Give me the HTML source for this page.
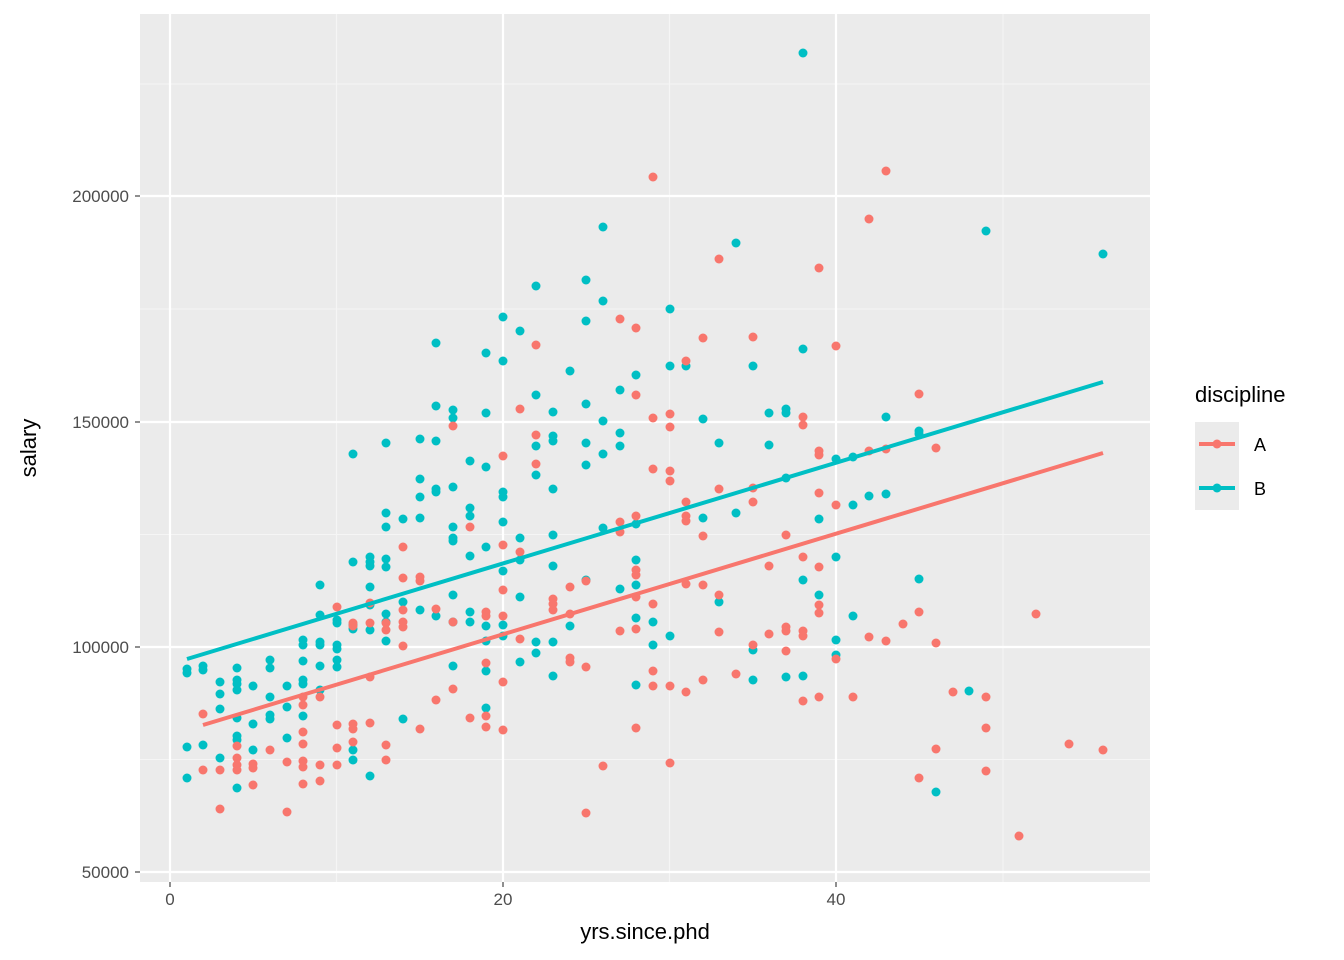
<!DOCTYPE html>
<html><head><style>body{margin:0;background:#fff}svg{display:block;font-family:"Liberation Sans",sans-serif}</style></head>
<body>
<svg id="s" width="1344" height="960" xmlns="http://www.w3.org/2000/svg">
<rect x="140" y="14" width="1010" height="868" fill="#EBEBEB"/>
<g stroke="#F5F5F5" stroke-width="1.1">
<line x1="140" x2="1150" y1="84" y2="84"/><line x1="140" x2="1150" y1="309" y2="309"/><line x1="140" x2="1150" y1="534.5" y2="534.5"/><line x1="140" x2="1150" y1="759.5" y2="759.5"/>
<line y1="14" y2="882" x1="336.5" x2="336.5"/><line y1="14" y2="882" x1="669.5" x2="669.5"/><line y1="14" y2="882" x1="1003" x2="1003"/>
</g>
<g stroke="#FFFFFF" stroke-width="2.2">
<line x1="140" x2="1150" y1="196" y2="196"/><line x1="140" x2="1150" y1="422" y2="422"/><line x1="140" x2="1150" y1="647" y2="647"/><line x1="140" x2="1150" y1="872" y2="872"/>
<line y1="14" y2="882" x1="170" x2="170"/><line y1="14" y2="882" x1="503" x2="503"/><line y1="14" y2="882" x1="836" x2="836"/>
</g>
<g id="pts"></g>
<line x1="187" y1="659" x2="1103" y2="382" stroke="#00BFC4" stroke-width="4"/>
<line x1="203" y1="725" x2="1103" y2="453" stroke="#F8766D" stroke-width="4"/>
<g stroke="#333" stroke-width="1.1">
<line x1="135" x2="140" y1="196" y2="196"/><line x1="135" x2="140" y1="422" y2="422"/><line x1="135" x2="140" y1="647" y2="647"/><line x1="135" x2="140" y1="872" y2="872"/>
<line y1="882" y2="887" x1="170" x2="170"/><line y1="882" y2="887" x1="503" x2="503"/><line y1="882" y2="887" x1="836" x2="836"/>
</g>
<g fill="#4D4D4D" font-size="17" text-anchor="end">
<text x="129" y="202">200000</text><text x="129" y="428">150000</text><text x="129" y="653">100000</text><text x="129" y="878">50000</text>
</g>
<g fill="#4D4D4D" font-size="17" text-anchor="middle">
<text x="170" y="905">0</text><text x="503" y="905">20</text><text x="836" y="905">40</text>
</g>
<text x="645" y="939" font-size="22" text-anchor="middle">yrs.since.phd</text>
<text transform="translate(36,448) rotate(-90)" font-size="22" text-anchor="middle">salary</text>
<text x="1195" y="402" font-size="22">discipline</text>
<rect x="1195" y="422" width="44" height="44" fill="#EBEBEB"/><rect x="1195" y="466" width="44" height="44" fill="#EBEBEB"/>
<line x1="1199" x2="1235" y1="444" y2="444" stroke="#F8766D" stroke-width="4"/><circle cx="1217" cy="444" r="4.5" fill="#F8766D"/>
<line x1="1199" x2="1235" y1="488" y2="488" stroke="#00BFC4" stroke-width="4"/><circle cx="1217" cy="488" r="4.5" fill="#00BFC4"/>
<text x="1254" y="451" font-size="18">A</text><text x="1254" y="495" font-size="18">B</text>
</svg>
<script>
var B=[[187,669],[187,673],[187,747],[187,778],[203,666],[203,670],[203,745],[220,682],[220,694],[220,709],[220,758],[237,668],[237,680],[237,684],[237,690],[237,718],[237,736],[237,740],[237,788],[253,686],[253,724],[253,750],[270,660],[270,668],[270,697],[270,715],[270,719],[287,686],[287,707],[287,738],[303,640],[303,645],[303,661],[303,680],[303,684],[303,716],[320,585],[320,615],[320,642],[320,645],[320,666],[320,690],[337,620],[337,623],[337,645],[337,649],[337,660],[337,667],[353,454],[353,562],[353,625],[353,629],[353,750],[353,760],[370,557],[370,562],[370,566],[370,587],[370,605],[370,630],[370,776],[386,443],[386,513],[386,527],[386,559],[386,567],[386,614],[386,622],[386,641],[403,519],[403,602],[403,719],[420,439],[420,479],[420,497],[420,518],[420,610],[436,343],[436,406],[436,441],[436,489],[436,492],[436,616],[453,410],[453,418],[453,487],[453,527],[453,538],[453,541],[453,595],[453,622],[453,666],[470,461],[470,508],[470,516],[470,556],[470,612],[470,622],[486,353],[486,413],[486,467],[486,547],[486,626],[486,641],[486,671],[486,708],[503,317],[503,361],[503,492],[503,497],[503,522],[503,571],[503,625],[503,636],[520,331],[520,538],[520,560],[520,597],[520,662],[536,286],[536,395],[536,446],[536,475],[536,642],[536,653],[553,412],[553,436],[553,441],[553,489],[553,535],[553,566],[553,642],[553,676],[570,371],[570,626],[586,280],[586,321],[586,404],[586,443],[586,465],[586,580],[603,227],[603,301],[603,421],[603,454],[603,528],[620,390],[620,433],[620,446],[620,589],[636,375],[636,524],[636,560],[636,585],[636,618],[636,685],[653,622],[653,645],[670,309],[670,366],[670,636],[686,366],[703,419],[703,518],[719,443],[719,602],[736,243],[736,513],[753,366],[753,650],[753,680],[769,413],[769,445],[786,409],[786,413],[786,478],[786,677],[803,53],[803,349],[803,580],[803,676],[819,519],[819,595],[836,459],[836,557],[836,640],[836,655],[853,457],[853,505],[853,616],[869,496],[886,417],[886,494],[919,431],[919,434],[919,579],[936,792],[969,691],[986,231],[1103,254]];
var A=[[203,714],[203,770],[220,770],[220,809],[237,746],[237,758],[237,765],[237,770],[253,764],[253,768],[253,785],[270,750],[287,762],[287,812],[303,697],[303,705],[303,732],[303,744],[303,761],[303,767],[303,784],[320,697],[320,765],[320,781],[337,607],[337,725],[337,748],[337,765],[353,623],[353,626],[353,724],[353,729],[353,742],[370,603],[370,623],[370,677],[370,723],[386,623],[386,630],[386,745],[386,760],[403,547],[403,578],[403,610],[403,622],[403,627],[403,646],[420,577],[420,581],[420,729],[436,609],[436,700],[453,426],[453,622],[453,689],[470,527],[470,718],[486,612],[486,616],[486,663],[486,716],[486,727],[503,456],[503,545],[503,590],[503,616],[503,682],[503,730],[520,409],[520,552],[520,639],[536,345],[536,435],[536,464],[553,599],[553,604],[553,610],[570,587],[570,614],[570,658],[570,662],[586,581],[586,667],[586,813],[603,766],[620,319],[620,522],[620,532],[620,631],[636,328],[636,395],[636,516],[636,570],[636,575],[636,597],[636,629],[636,728],[653,177],[653,418],[653,469],[653,604],[653,671],[653,686],[670,414],[670,427],[670,471],[670,481],[670,686],[670,763],[686,361],[686,502],[686,516],[686,521],[686,584],[686,692],[703,338],[703,536],[703,585],[703,680],[719,259],[719,489],[719,595],[719,632],[736,674],[753,337],[753,488],[753,502],[753,645],[769,566],[769,634],[786,535],[786,627],[786,631],[786,651],[803,417],[803,425],[803,557],[803,631],[803,636],[803,701],[819,268],[819,451],[819,455],[819,493],[819,567],[819,605],[819,613],[819,697],[836,346],[836,505],[836,659],[853,697],[869,219],[869,451],[869,637],[886,171],[886,449],[886,641],[903,624],[919,394],[919,612],[919,778],[936,448],[936,643],[936,749],[953,692],[986,697],[986,728],[986,771],[1019,836],[1036,614],[1069,744],[1103,750]];
var g=document.getElementById('pts'),h='';
B.forEach(function(p){h+='<circle cx="'+p[0]+'" cy="'+p[1]+'" r="4.5" fill="#00BFC4"/>';});
A.forEach(function(p){h+='<circle cx="'+p[0]+'" cy="'+p[1]+'" r="4.5" fill="#F8766D"/>';});
g.innerHTML=h;
</script>
</body></html>
